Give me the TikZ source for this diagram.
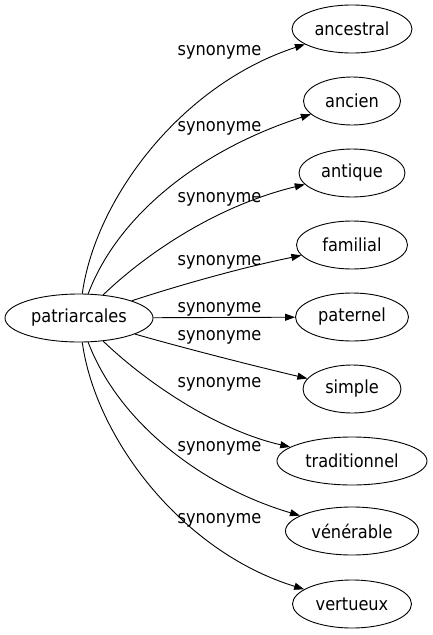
\documentclass[tikz,border=0pt]{standalone}
\usepackage{fontspec}
\setmainfont{DejaVu Sans Condensed}
\usetikzlibrary{shapes.geometric,arrows.meta}
\tikzset{
  word/.style={ellipse, draw, line width=0.9pt, inner sep=0pt, minimum height=48pt, font=\fontsize{18}{20}\selectfont},
  edge/.style={line width=0.9pt, -{Triangle[length=10pt,width=7pt]}},
  lbl/.style={anchor=base, inner sep=0pt, font=\fontsize{18}{20}\selectfont}
}
\begin{document}
\begin{tikzpicture}[x=1pt,y=-1pt]
\useasboundingbox (0,0) rectangle (432,635);
\node[word, minimum width=148pt] (p) at (79,318) {patriarcales};
\node[word, minimum width=120pt] (a1) at (352,29) {ancestral};
\node[word, minimum width=97pt]  (a2) at (352,101) {ancien};
\node[word, minimum width=106pt] (a3) at (352,173) {antique};
\node[word, minimum width=111pt] (a4) at (352,245) {familial};
\node[word, minimum width=113pt] (a5) at (352,317) {paternel};
\node[word, minimum width=98pt]  (a6) at (352,389) {simple};
\node[word, minimum width=150pt] (a7) at (352,461) {traditionnel};
\node[word, minimum width=133pt] (a8) at (352,531) {vénérable};
\node[word, minimum width=119pt] (a9) at (352,604) {vertueux};
\draw[edge] (p) .. controls (95,200) and (180,85) .. (a1);
\draw[edge] (p) .. controls (118,215) and (200,150) .. (a2);
\draw[edge] (p) .. controls (150,250) and (220,205) .. (a3);
\draw[edge] (p) .. controls (180,285) and (240,268) .. (a4);
\draw[edge] (p) -- (a5);
\draw[edge] (p) .. controls (180,347) and (250,365) .. (a6);
\draw[edge] (p) .. controls (150,386) and (220,431) .. (a7);
\draw[edge] (p) .. controls (118,421) and (200,486) .. (a8);
\draw[edge] (p) .. controls (95,436) and (180,551) .. (a9);
\node[lbl] (l1) at (219.5,55) {synonyme};
\node[lbl] (l2) at (219.5,131) {synonyme};
\node[lbl] (l3) at (219.5,202) {synonyme};
\node[lbl] (l4) at (219.5,265) {synonyme};
\node[lbl] (l5) at (219.5,312) {synonyme};
\node[lbl] (l6) at (219.5,340) {synonyme};
\node[lbl] (l7) at (219.5,387) {synonyme};
\node[lbl] (l8) at (219.5,451) {synonyme};
\node[lbl] (l9) at (219.5,523) {synonyme};
\end{tikzpicture}
\end{document}
